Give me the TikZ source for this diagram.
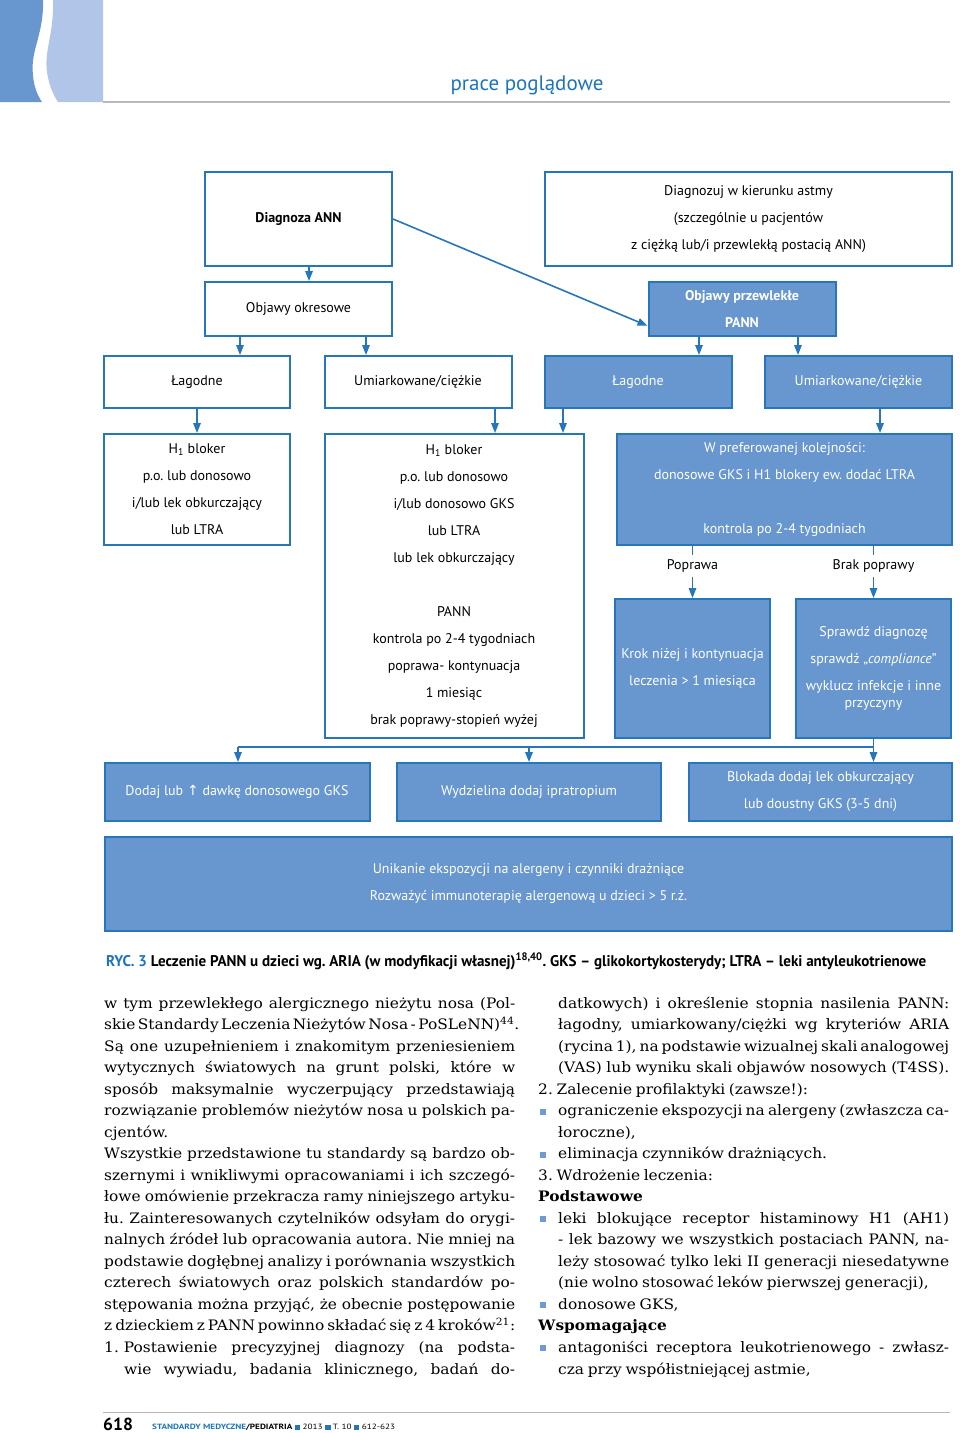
\documentclass[tikz,border=0pt]{standalone}
\usepackage{fontspec}
\setmainfont{DejaVu Serif}[FakeStretch=1.07, WordSpace=0.75]
\newfontfamily\boxfont{PT Sans}
\newfontfamily\arrowfont{DejaVu Sans}
\usepackage{graphicx}
\usetikzlibrary{arrows.meta, positioning, calc}
\definecolor{FrameBlue}{RGB}{38,118,188}
\definecolor{FillBlue}{RGB}{104,150,207}
\definecolor{HeadBlue}{RGB}{27,117,188}
\definecolor{DeepBand}{RGB}{104,150,207}
\definecolor{PaleBand}{RGB}{176,197,232}
\definecolor{RuleGray}{RGB}{185,185,185}
\definecolor{BulletBlue}{RGB}{110,155,210}
\frenchspacing
% justified lines of the two text columns
\newcommand{\jl}[1]{\makebox[411pt][s]{#1}}
\newcommand{\ijl}[1]{\hspace*{20pt}\makebox[391pt][s]{#1}}
\newcommand{\blt}{\makebox[20pt][l]{\hspace{2pt}\textcolor{BulletBlue}{\rule[1pt]{6pt}{6pt}}}}
\newcommand{\bjl}[1]{\blt\makebox[391pt][s]{#1}}
\newcommand{\fsq}{\textcolor{FrameBlue}{\rule{4.5pt}{4.5pt}}}

\begin{document}
\begin{tikzpicture}[x=1pt, y=-1pt,
	box/.style={draw=FrameBlue, line width=2pt, align=center, inner sep=0pt,
		font=\boxfont\fontsize{14}{27}\selectfont},
	wbox/.style={box, fill=white},
	bbox/.style={box, fill=FillBlue, text=white},
	wh/.style 2 args={minimum width=#1pt, minimum height=#2pt},
	lbl/.style={inner sep=0pt, minimum height=22pt, font=\boxfont\fontsize{14}{16}\selectfont},
	body/.style={anchor=base west, inner sep=0pt, font=\fontsize{14.4}{21.5}\selectfont},
	arr/.style={-{Triangle[length=10pt,width=7.5pt]}, line width=1.6pt, FrameBlue},
	ln/.style={line width=1.6pt, FrameBlue}]

	\useasboundingbox (0,0) rectangle (960,1433);

	% page head
	\fill[DeepBand] (0,0) -- (43,0) .. controls (44,35) and (30,50) .. (33,75) .. controls (34,88) and (38,96) .. (42,102) -- (0,102) -- cycle;
	\fill[PaleBand] (53,0) .. controls (54,35) and (44,50) .. (47,72) .. controls (49,86) and (54,96) .. (58,102) -- (103,102) -- (103,0) -- cycle;
	\draw[RuleGray, line width=1.2pt] (103,102) -- (950,102);
	\node[anchor=base, inner sep=0pt, text=HeadBlue, font=\boxfont\fontsize{21}{24}\selectfont] (title) at (527,90) {prace poglądowe};

	% flowchart
	\node[wbox, wh={187}{94}] (diag) at (298.5,219) {\textbf{Diagnoza ANN}};
	\node[wbox, wh={407}{94}] (astma) at (748.5,219) {Diagnozuj w kierunku astmy\\(szczególnie u pacjentów\\z ciężką lub/i przewlekłą postacią ANN)};
	\node[wbox, wh={187}{54}] (okr) at (298.5,309) {Objawy okresowe};
	\node[bbox, wh={187}{54}] (przew) at (742,309) {\textbf{Objawy przewlekłe}\\\textbf{PANN}};
	\node[wbox, wh={186}{52}] (lag1) at (197,382) {Łagodne};
	\node[wbox, wh={187}{52}] (umi1) at (418,382) {Umiarkowane/ciężkie};
	\node[bbox, wh={187}{52}] (lag2) at (638,382) {Łagodne};
	\node[bbox, wh={187}{52}] (umi2) at (858.5,382) {Umiarkowane/ciężkie};
	\node[wbox, wh={186}{111}] (h1a) at (197,489.5) {H\textsubscript{1} bloker\\p.o. lub donosowo\\i/lub lek obkurczający\\lub LTRA};
	\node[wbox, wh={259}{304}] (h1b) at (454,586) {H\textsubscript{1} bloker\\p.o. lub donosowo\\i/lub donosowo GKS\\lub LTRA\\lub lek obkurczający\\[27pt]PANN\\kontrola po 2-4 tygodniach\\poprawa- kontynuacja\\1 miesiąc\\brak poprawy-stopień wyżej};
	\node[bbox, wh={335}{111}] (pref) at (784.5,489.5) {W preferowanej kolejności:\\donosowe GKS i H1 blokery ew. dodać LTRA\\[27pt]kontrola po 2-4 tygodniach};
	\node[lbl] (popr) at (692.5,566) {Poprawa};
	\node[lbl] (brak) at (873.5,566) {Brak poprawy};
	\node[bbox, wh={155}{139}] (krok) at (692.5,668.5) {Krok niżej i kontynuacja\\leczenia > 1 miesiąca};
	\node[bbox, wh={155}{139}] (spr) at (873.5,668.5) {Sprawdź diagnozę\\sprawdź „\textit{compliance}”\\wyklucz infekcje i inne\\[-10pt]przyczyny};
	\node[bbox, wh={265}{58}] (dodaj) at (237,792) {Dodaj lub {\arrowfont ↑} dawkę donosowego GKS};
	\node[bbox, wh={264}{58}] (wydz) at (529,792) {Wydzielina dodaj ipratropium};
	\node[bbox, wh={263}{58}] (blok) at (820.5,792) {Blokada dodaj lek obkurczający\\lub doustny GKS (3-5 dni)};
	\node[bbox, wh={847}{94}] (unik) at (528.5,884) {Unikanie ekspozycji na alergeny i czynniki drażniące\\Rozważyć immunoterapię alergenową u dzieci > 5 r.ż.};

	% arrow columns
	\coordinate (k1) at (309,0);
	\coordinate (k2) at (240,0);
	\coordinate (k3) at (366,0);
	\coordinate (k4) at (699,0);
	\coordinate (k5) at (798,0);
	\coordinate (k6) at (495,0);
	\coordinate (k7) at (563,0);
	\coordinate (k8) at (880,0);
	\coordinate (k10) at (529,0);
	\coordinate (bar) at (238,747);

	\draw[arr] (diag.south -| k1) -- (okr.north -| k1);
	\draw[arr] (diag.east) -- ($(przew.south west)!0.2!(przew.north west)$);
	\draw[arr] (okr.south -| k2) -- (lag1.north -| k2);
	\draw[arr] (okr.south -| k3) -- (umi1.north -| k3);
	\draw[arr] (przew.south -| k4) -- (lag2.north -| k4);
	\draw[arr] (przew.south -| k5) -- (umi2.north -| k5);
	\draw[arr] (lag1.south) -- (h1a.north);
	\draw[arr] (umi1.south -| k6) -- (h1b.north -| k6);
	\draw[arr] (lag2.south -| k7) -- (h1b.north -| k7);
	\draw[arr] (umi2.south -| k8) -- (pref.north -| k8);
	\draw[ln] (pref.south -| popr) -- (popr.north);
	\draw[arr] (popr.south) -- (krok.north -| popr);
	\draw[ln] (pref.south -| brak) -- (brak.north);
	\draw[arr] (brak.south) -- (spr.north -| brak);
	\draw[ln] (spr.south) |- (bar);
	\draw[arr] (bar) -- (dodaj.north -| bar);
	\draw[arr] (k10 |- bar) -- (wydz.north -| k10);
	\draw[arr] (spr.south |- bar) -- (blok.north -| spr.south);

	% caption
	\node[anchor=base west, inner sep=0pt] (cap) at (106,966) {\resizebox{820pt}{\height}{\boxfont\bfseries\fontsize{15.5}{17}\selectfont\textcolor{HeadBlue}{RYC. 3} Leczenie PANN u dzieci wg. ARIA (w modyfikacji własnej)\textsuperscript{18,40}. GKS – glikokortykosterydy; LTRA – leki antyleukotrienowe}};

	% text columns
	\foreach \ln [count=\i] in {
		{\jl{w tym przewlekłego alergicznego nieżytu nosa (Pol-}},
		{\jl{skie Standardy Leczenia Nieżytów Nosa - PoSLeNN)\textsuperscript{44}.}},
		{\jl{Są one uzupełnieniem i znakomitym przeniesieniem}},
		{\jl{wytycznych światowych na grunt polski, które w}},
		{\jl{sposób maksymalnie wyczerpujący przedstawiają}},
		{\jl{rozwiązanie problemów nieżytów nosa u polskich pa-}},
		{cjentów.},
		{\jl{Wszystkie przedstawione tu standardy są bardzo ob-}},
		{\jl{szernymi i wnikliwymi opracowaniami i ich szczegó-}},
		{\jl{łowe omówienie przekracza ramy niniejszego artyku-}},
		{\jl{łu. Zainteresowanych czytelników odsyłam do orygi-}},
		{\jl{nalnych źródeł lub opracowania autora. Nie mniej na}},
		{\jl{podstawie dogłębnej analizy i porównania wszystkich}},
		{\jl{czterech światowych oraz polskich standardów po-}},
		{\jl{stępowania można przyjąć, że obecnie postępowanie}},
		{\jl{z dzieckiem z PANN powinno składać się z 4 kroków\textsuperscript{21}:}},
		{\jl{1.\hspace{5pt}Postawienie precyzyjnej diagnozy (na podsta-}},
		{\ijl{wie wywiadu, badania klinicznego, badań do-}}}
	\node[body] (la\i) at (104,{1008+21.53*(\i-1)}) {\ln};

	\foreach \ln [count=\i] in {
		{\ijl{datkowych) i określenie stopnia nasilenia PANN:}},
		{\ijl{łagodny, umiarkowany/ciężki wg kryteriów ARIA}},
		{\ijl{(rycina 1), na podstawie wizualnej skali analogowej}},
		{\ijl{(VAS) lub wyniku skali objawów nosowych (T4SS).}},
		{2. Zalecenie profilaktyki (zawsze!):},
		{\bjl{ograniczenie ekspozycji na alergeny (zwłaszcza ca-}},
		{\hspace*{20pt}łoroczne),},
		{\blt eliminacja czynników drażniących.},
		{3. Wdrożenie leczenia:},
		{\textbf{Podstawowe}},
		{\bjl{leki blokujące receptor histaminowy H1 (AH1)}},
		{\ijl{- lek bazowy we wszystkich postaciach PANN, na-}},
		{\ijl{leży stosować tylko leki II generacji niesedatywne}},
		{\hspace*{20pt}(nie wolno stosować leków pierwszej generacji),},
		{\blt donosowe GKS,},
		{\textbf{Wspomagające}},
		{\bjl{antagoniści receptora leukotrienowego - zwłasz-}},
		{\hspace*{20pt}cza przy współistniejącej astmie,}}
	\node[body] (ra\i) at (538,{1008+21.53*(\i-1)}) {\ln};

	% page foot
	\draw[RuleGray, line width=1pt] (103,1412) -- (950,1412);
	\node[anchor=base west, inner sep=0pt, font=\boxfont\bfseries\fontsize{17.5}{20}\selectfont] (pg) at (103,1430) {618};
	\node[anchor=base west, inner sep=0pt] (jr) at (152,1429.5) {\resizebox{243pt}{\height}{\boxfont\fontsize{7.6}{9}\selectfont\textbf{\textcolor{HeadBlue}{STANDARDY MEDYCZNE}/PEDIATRIA} \fsq{} 2013 \fsq{} T. 10 \fsq{} 612-623}};
\end{tikzpicture}
\end{document}
